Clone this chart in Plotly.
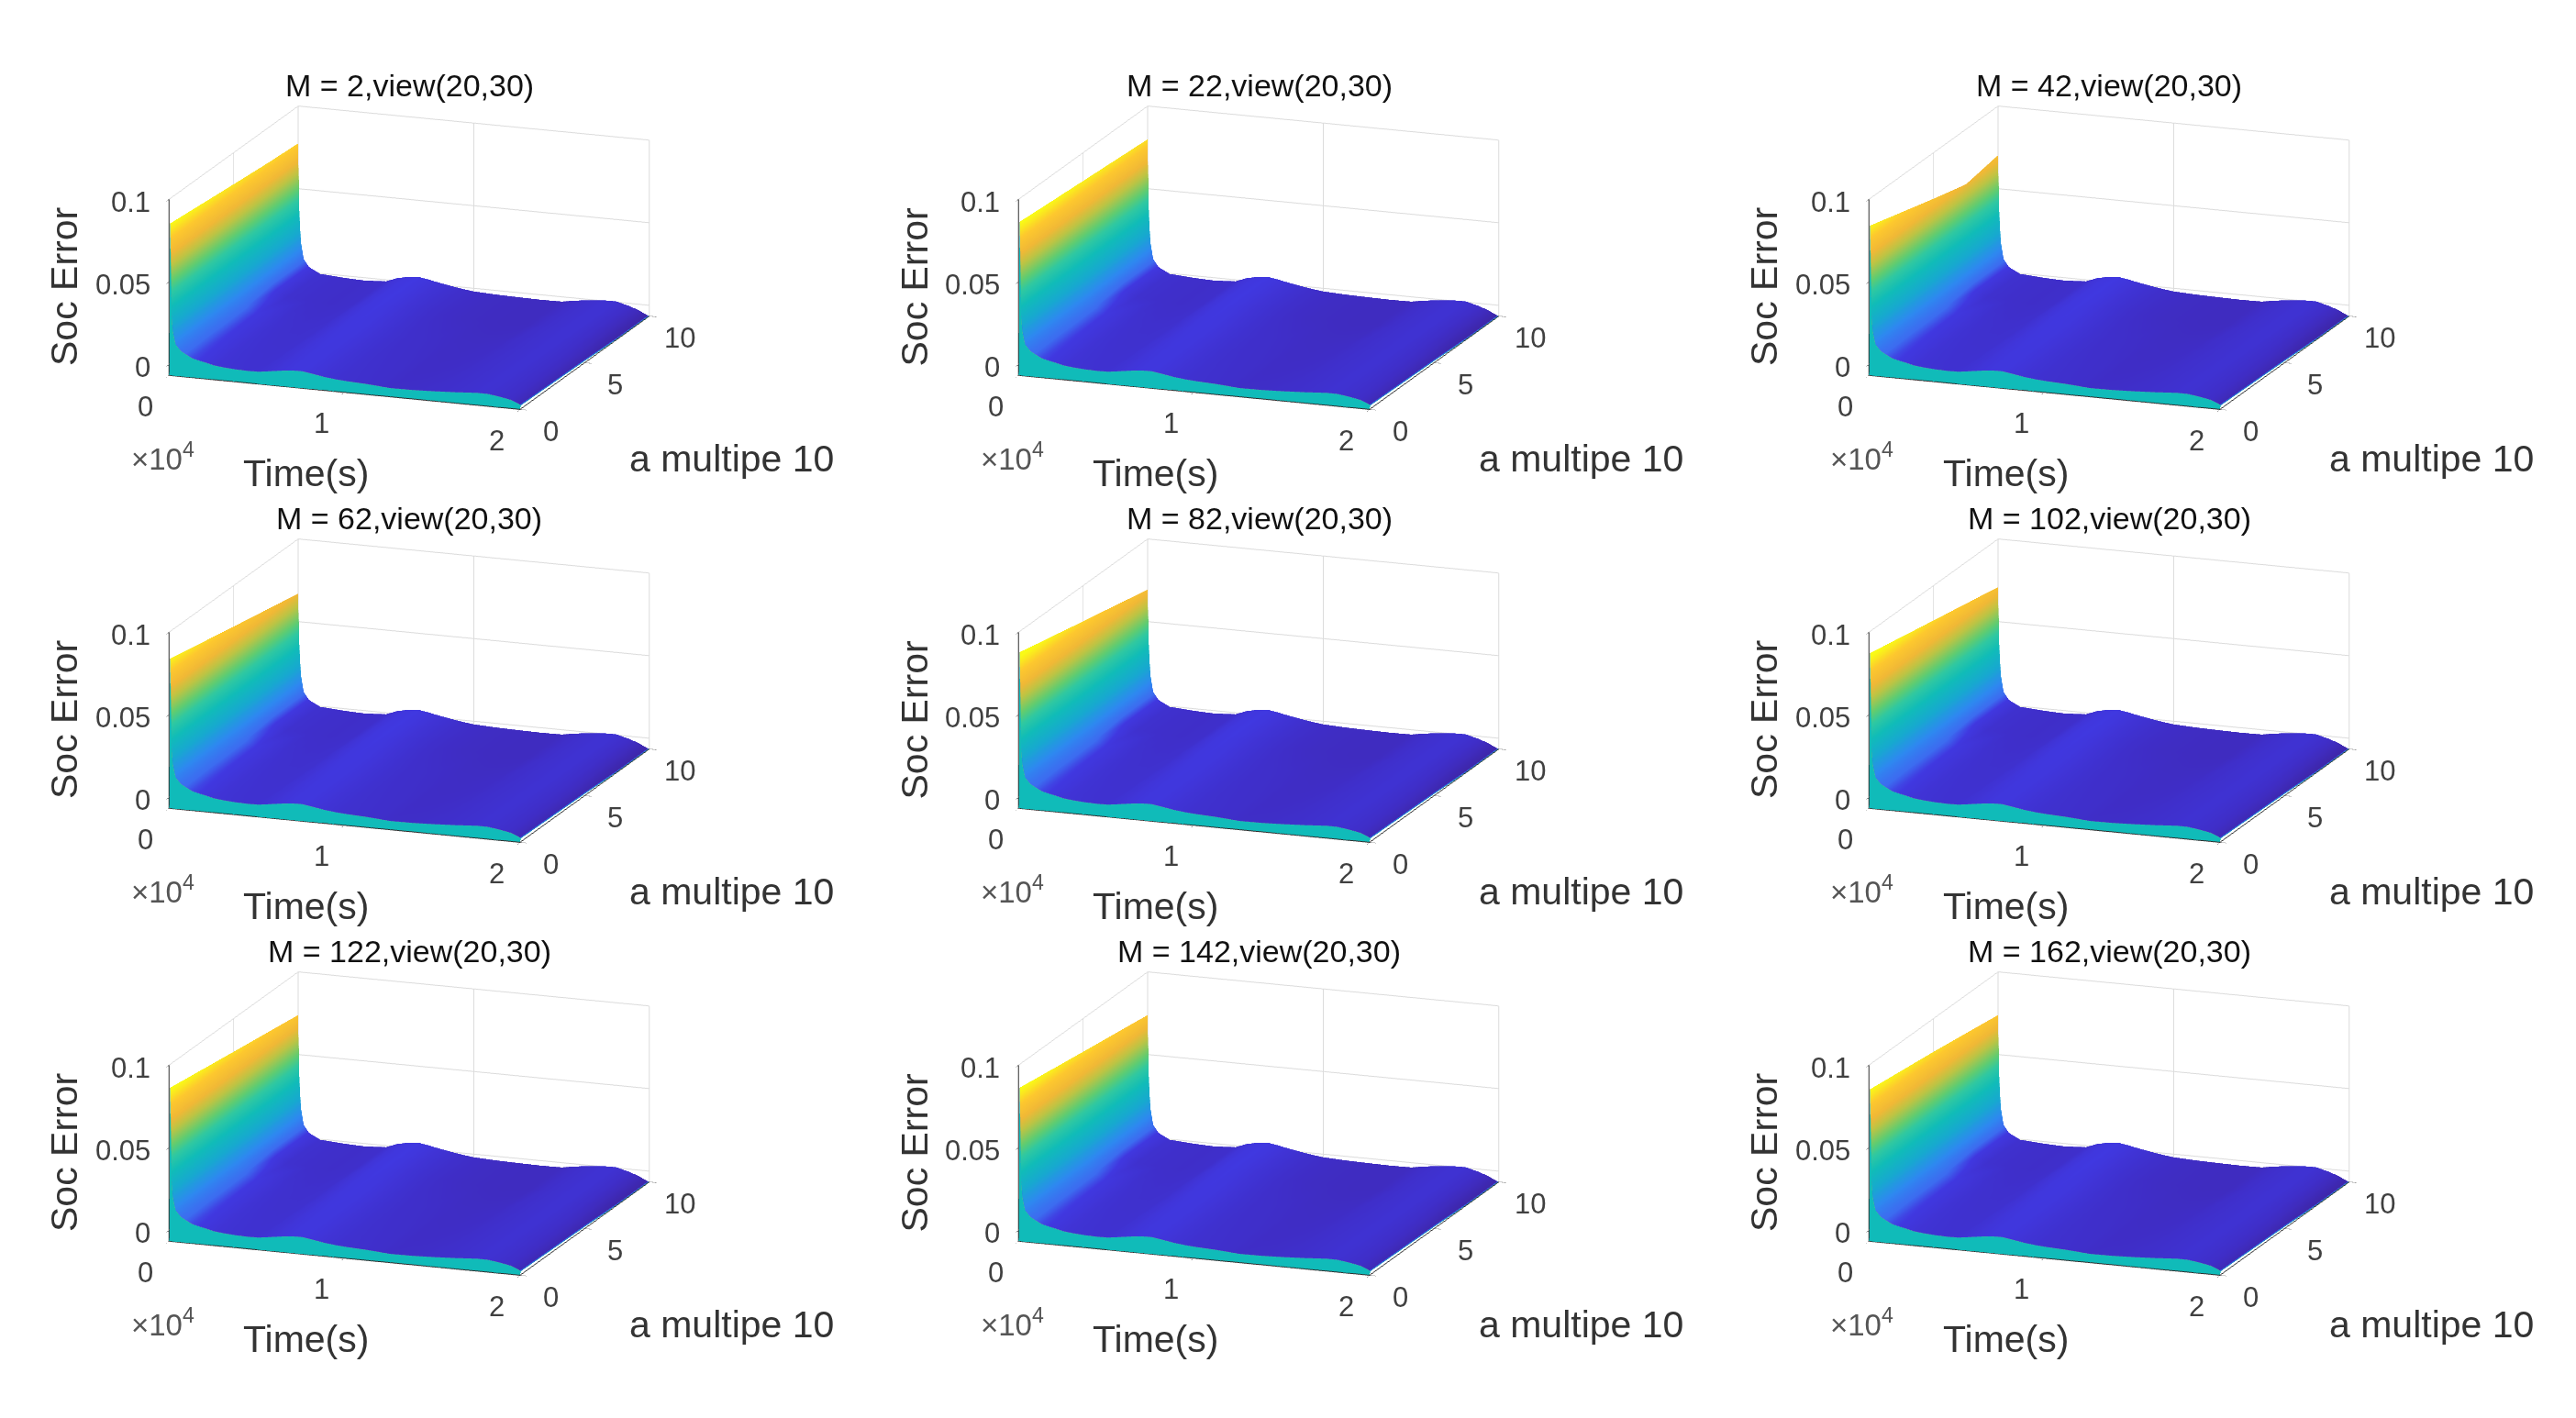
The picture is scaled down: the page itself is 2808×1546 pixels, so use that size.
import plotly.graph_objects as go

W, H = 2808, 1546
PANEL_M = [2, 22, 42, 62, 82, 102, 122, 142, 162]
T = [0, 78.125, 156.25, 312.5, 625, 1250, 2500, 3125, 3750, 4375, 5000, 5625, 6250, 6875, 7500, 8125, 8750,
     9375, 10000, 11250, 12500, 13750, 15000, 16250, 17500, 18125, 18750, 19375, 19687.5, 19843.75,
     19921.875, 20000]
A = [0, 0.08, 0.1, 5, 7.5, 10]
FRONT_Z = [0.033, 0.020, 0.012, 0.0082, 0.0046, 0.0015, 0.0008, 0.0004, 0.0002, 0.0003, 0.0012, 0.0022,
           0.0030, 0.0032, 0.0022, 0.0011, 0.0003, -0.0002, -0.0008, -0.0018, -0.0017, -0.0012, -0.0005,
           0.0004, 0.0003, -0.0006, -0.0018, -0.0030, -0.0038, -0.0043, -0.0046]
MID_Z = [0.033, 0.020, 0.012, 0.0075, 0.0034, 0.0003, -0.0003, -0.0006, -0.0006, -0.0003, 0.0014, 0.0028,
         0.0034, 0.0030, 0.0018, 0.0006, -0.0003, -0.0010, -0.0016, -0.0022, -0.0023, -0.0020, -0.0006,
         0.0004, 0.0004, -0.0009, -0.0026, -0.0040, -0.0048, -0.0052, -0.0056]
BACK_Z = [0.033, 0.018, 0.008, 0.0032, -0.0002, -0.0011, -0.0014, -0.0016, -0.0013, -0.0008, 0.0017, 0.0032,
          0.0037, 0.0026, 0.0012, 0.0001, -0.0010, -0.0018, -0.0024, -0.0027, -0.0029, -0.0028, -0.0007,
          0.0005, 0.0005, -0.0012, -0.0034, -0.0050, -0.0058, -0.0062, -0.0065]
# height at t = 0 for rows a ~ 0, 5, 7.5, 10 in each panel
HEAD_Z = [[0.085, 0.081, 0.079, 0.0775], [0.086, 0.083, 0.0815, 0.080], [0.0837, 0.0722, 0.0668, 0.0704],
          [0.0837, 0.0753, 0.0712, 0.067], [0.0875, 0.0785, 0.074, 0.0695], [0.087, 0.079, 0.075, 0.071],
          [0.086, 0.080, 0.077, 0.074], [0.086, 0.080, 0.077, 0.074], [0.085, 0.080, 0.077, 0.074]]
Z_FLOOR = -0.0065
Z_TOP = 0.1
Z_COLOR_MAX = 0.085
TEAL_LEVEL = 0.0345
X_TICKS = [0, 10000, 20000]
X_TICK_TEXT = ["0", "1", "2"]
Y_TICKS = [0, 5, 10]
Y_TICK_TEXT = ["0", "5", "10"]
Z_TICKS = [0, 0.05, 0.1]
Z_TICK_TEXT = ["0", "0.05", "0.1"]

PARULA = [[0, "#3E26A8"], [0.05, "#3F2EC8"], [0.11, "#4038E0"], [0.147, "#3C6CF0"], [0.22, "#2E88F0"],
          [0.33, "#17A8D0"], [0.45, "#10BCB8"], [0.55, "#30C8A0"], [0.62, "#60CC70"], [0.72, "#BCC444"],
          [0.8, "#F0B836"], [0.9, "#FDC82E"], [1, "#F9FB15"]]

CX0, CY0 = 445.5, 281.0
DX, DY = 926.5, 472
SW, SH = 880, 460
EYE = (0.3319, -0.9054, 0.2648)
EYE_LEN = 1.8
ASPECT = dict(x=1.772, y=1.78, z=0.865)
FONT = "Liberation Sans"
TICK = "#404040"

nt, na = len(T), len(A)
mx = [t for a in A for t in T]
my = [a for a in A for t in T]
mi, mj, mk = [], [], []
for p in range(na - 1):
    for q in range(nt - 1):
        v = p * nt + q
        mi += [v, v]
        mj += [v + 1, v + nt + 1]
        mk += [v + nt + 1, v + nt]

fig = go.Figure()
layout = dict(width=W, height=H, margin=dict(l=0, r=0, t=0, b=0), paper_bgcolor="white",
              showlegend=False, autosize=False)
ann = []


def tick_note(x, y, z, text, xshift, yshift, xanchor="center"):
    return dict(x=x, y=y, z=z, text=text, showarrow=False, xshift=xshift, yshift=yshift, xanchor=xanchor,
                yanchor="middle", font=dict(family=FONT, size=31, color=TICK))


for i, m in enumerate(PANEL_M):
    r, c = i // 3, i % 3
    ox, oy = c * DX, r * DY
    name = "scene" if i == 0 else f"scene{i+1}"
    head = HEAD_Z[i]
    front = [head[0]] + FRONT_Z
    rows = [[Z_FLOOR] * nt, front, front, [head[1]] + MID_Z, [head[2]] + BACK_Z, [head[3]] + BACK_Z]
    col = [[TEAL_LEVEL] * nt, [TEAL_LEVEL] * nt] + [list(v) for v in rows[2:]]
    for v in col:
        v[-1] = TEAL_LEVEL
    fig.add_trace(go.Mesh3d(x=mx, y=my, z=[v for row in rows for v in row], i=mi, j=mj, k=mk,
                            intensity=[v for row in col for v in row], colorscale=PARULA, cmin=Z_FLOOR,
                            cmax=Z_COLOR_MAX, showscale=False, scene=name, hoverinfo="skip", flatshading=False,
                            lighting=dict(ambient=1, diffuse=0, specular=0, fresnel=0, roughness=1)))
    cx, cy = CX0 + ox, CY0 + oy
    axis = dict(title=dict(text=""), showbackground=False, showspikes=False, showline=True, linecolor="#303030",
                linewidth=2, gridcolor="#dcdcdc", gridwidth=2, zeroline=False, ticks="outside", ticklen=8,
                tickcolor="#404040", showticklabels=False)
    notes = [tick_note(v, 0, Z_FLOOR, s, -25, -34) for v, s in zip(X_TICKS, X_TICK_TEXT)]
    notes += [tick_note(20000, v, Z_FLOOR, s, 34, -24) for v, s in zip(Y_TICKS, Y_TICK_TEXT)]
    notes += [tick_note(0, 0, v, s, -18, -3, "right") for v, s in zip(Z_TICKS, Z_TICK_TEXT)]
    layout[name] = dict(
        domain=dict(x=[(cx - SW / 2) / W, (cx + SW / 2) / W], y=[1 - (cy + SH / 2) / H, 1 - (cy - SH / 2) / H]),
        aspectmode="manual", aspectratio=ASPECT,
        camera=dict(projection=dict(type="orthographic"), up=dict(x=0, y=0, z=1), center=dict(x=0, y=0, z=0),
                    eye=dict(x=EYE[0] * EYE_LEN, y=EYE[1] * EYE_LEN, z=EYE[2] * EYE_LEN)),
        xaxis=dict(axis, range=[0, 20000], tickvals=X_TICKS),
        yaxis=dict(axis, range=[0, 10], tickvals=Y_TICKS),
        zaxis=dict(axis, range=[Z_FLOOR, Z_TOP], tickvals=Z_TICKS),
        annotations=notes,
    )

    def note(px, py, text, size, color="#262626", angle=0):
        ann.append(dict(xref="paper", yref="paper", x=(px + ox) / W, y=1 - (py + oy) / H, text=text,
                        showarrow=False, xanchor="center", yanchor="middle", textangle=angle,
                        font=dict(family=FONT, size=size, color=color)))
    note(446, 93, f"M = {m},view(20,30)", 34, "#111111")
    note(70, 313, "Soc Error", 41, "#333333", -90)
    note(333, 516, "Time(s)", 41, "#333333")
    note(797, 500, "a multipe 10", 41, "#333333")
    note(177, 498, "×10<sup>4</sup>", 33, "#555555")
layout["annotations"] = ann
fig.update_layout(**layout)
fig.write_html("out.html", post_script="document.body.style.margin='0';",
               config=dict(displayModeBar=False, plotGlPixelRatio=1))
